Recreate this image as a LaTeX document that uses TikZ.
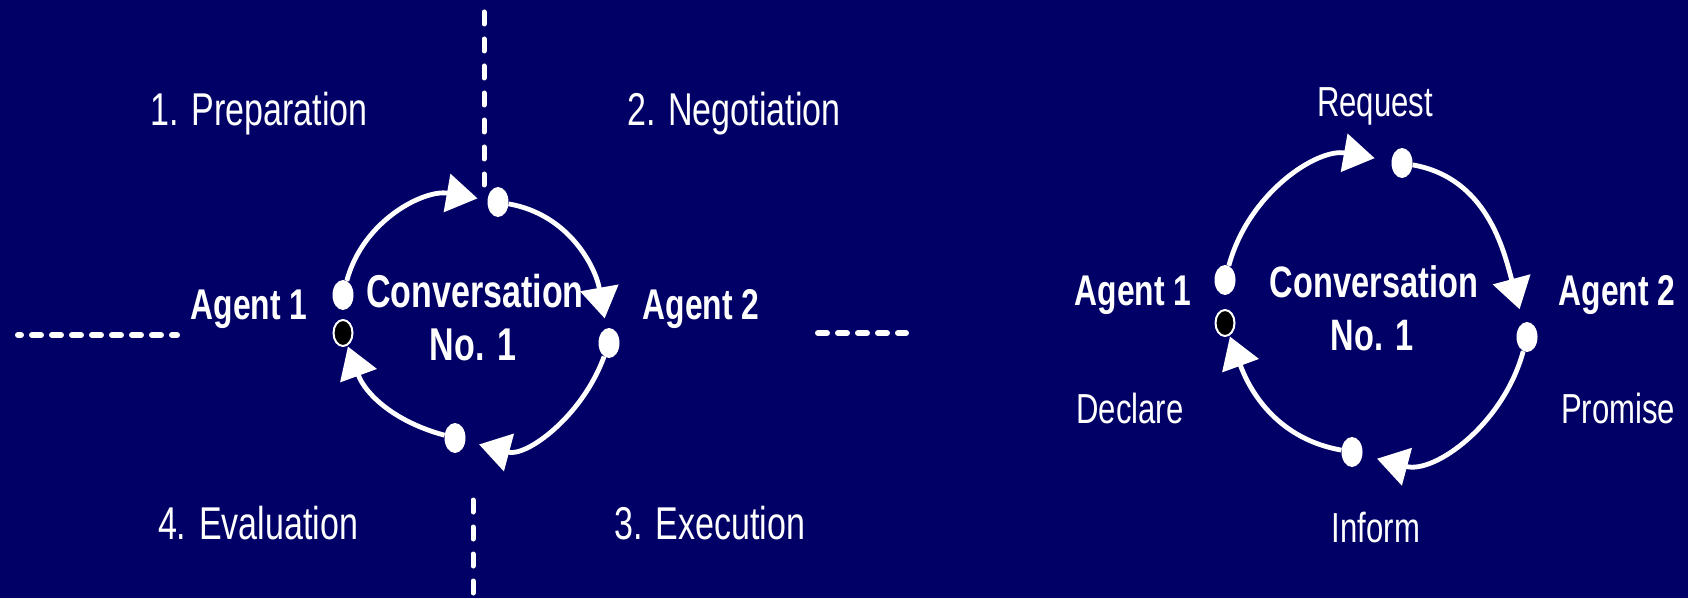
\documentclass[tikz,border=0pt]{standalone}
\usepackage{fontspec}
\setmainfont{Liberation Sans}[FakeStretch=0.74]
\usetikzlibrary{arrows.meta,shapes.geometric}
\definecolor{cNavy}{RGB}{0,0,102}

\begin{document}
\begin{tikzpicture}[x=1pt,y=1pt,
        dot/.style={ellipse,fill=white,inner sep=0pt,minimum width=21pt,minimum height=30pt},
        hole/.style={ellipse,draw=white,line width=2pt,fill=black,inner sep=0pt,minimum width=19pt,minimum height=26pt},
        turn/.style={draw=white,line width=4.8pt,-{Triangle[length=31pt,width=38pt]}},
        phase/.style={text=white,anchor=base,font=\fontsize{46}{50}\selectfont},
        act/.style={text=white,anchor=base,font=\fontsize{42}{46}\selectfont},
        who/.style={text=white,anchor=base,font=\bfseries\fontsize{43}{47}\selectfont},
        topic/.style={text=white,anchor=base,align=center,font=\bfseries\fontsize{46}{50}\selectfont},
        vsep/.style={draw=white,line width=5pt,line cap=round,dash pattern=on 12pt off 15pt},
        hsep/.style={draw=white,line width=6pt,line cap=round,dash pattern=on 9pt off 11pt}]
        \useasboundingbox (0,0) rectangle (1688,598);
        \fill[cNavy] (0,0) rectangle (1688,598);

        % phase separators
        \coordinate (ntop) at (484,586);
        \coordinate (nbot) at (484,413);
        \coordinate (stop) at (473,98);
        \coordinate (sbot) at (473,-4);
        \coordinate (wleft) at (18,263);
        \coordinate (wright) at (177,263);
        \coordinate (eleft) at (818,265);
        \coordinate (eright) at (906,265);
        \draw[vsep] (ntop) -- (nbot);
        \draw[vsep] (stop) -- (sbot);
        \draw[hsep,dash phase=6pt] (wleft) -- (wright);
        \draw[hsep] (eleft) -- (eright);

        % phases
        \node[phase] (prep) at (259,472) {1. Preparation};
        \node[phase] (nego) at (734,472) {2. Negotiation};
        \node[phase] (eval) at (258,59) {4. Evaluation};
        \node[phase] (exec) at (710,59) {3. Execution};

        % left conversation
        \node[dot] (la) at (343,303) {};
        \node[hole] (ld) at (343,265) {};
        \node[dot] (lt) at (498,396) {};
        \node[dot] (lr) at (609,255) {};
        \node[dot] (lb) at (455,160) {};
        \draw[turn,shorten >=10pt] (la) to[out=75,in=170] (lt);
        \draw[turn,shorten >=10pt] (lt) to[out=-10,in=100] (lr);
        \draw[turn,shorten >=14pt] (lr) to[out=-110,in=-15] (lb);
        \draw[turn,shorten >=1pt] (lb) to[out=165,in=-70] (ld);
        \node[who] (lagent1) at (249,279) {Agent 1};
        \node[who] (lagent2) at (701,279) {Agent 2};
        \node[topic] (lconv) at (475,291) {Conversation};
        \node[topic] (lno) at (473,238) {No. 1};

        % right conversation
        \node[dot] (ra) at (1225,318) {};
        \node[hole] (rd) at (1225,275) {};
        \node[dot] (rt) at (1402,435) {};
        \node[dot] (rr) at (1527,261) {};
        \node[dot] (rb) at (1352,146) {};
        \draw[turn,shorten >=17pt] (ra) to[out=75,in=170] (rt);
        \draw[turn,shorten >=14pt] (rt) to[out=-10,in=105] (rr);
        \draw[turn,shorten >=15pt] (rr) to[out=-105,in=-15] (rb);
        \draw[turn,shorten >=1pt] (rb) to[out=170,in=-70] (rd);
        \node[who] (ragent1) at (1133,293) {Agent 1};
        \node[who] (ragent2) at (1617,293) {Agent 2};
        \node[topic,font=\bfseries\fontsize{44}{48}\selectfont] (rconv) at (1374,301) {Conversation};
        \node[topic,font=\bfseries\fontsize{44}{48}\selectfont] (rno) at (1372,248) {No. 1};
        \node[act] (request) at (1375,481) {Request};
        \node[act] (promise) at (1618,175) {Promise};
        \node[act] (inform) at (1376,56) {Inform};
        \node[act] (declare) at (1130,175) {Declare};
\end{tikzpicture}
\end{document}
